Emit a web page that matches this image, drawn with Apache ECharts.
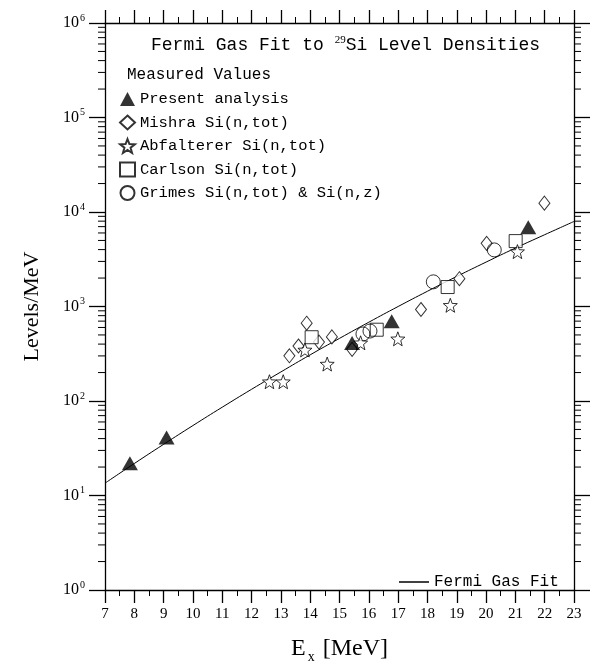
<!DOCTYPE html>
<html>
<head>
<meta charset="utf-8">
<script src="https://cdn.jsdelivr.net/npm/echarts@6/dist/echarts.min.js"></script>
<style>
html, body { margin: 0; padding: 0; background: #fff; }
#chart { width: 593px; height: 669px; }
</style>
</head>
<body>
<div id="chart"></div>
<script>
// Fermi gas fit curve
var fitEx = [7, 8, 9, 10, 11, 12, 13, 14, 15, 16, 17, 18, 19, 20, 21, 22, 23];
var fitLevels = [13.5, 21.8, 34.8, 55, 86, 133, 203, 308, 460, 682, 1000, 1450, 2080, 2950, 4150, 5750, 7940];

// measured values
var presentEx = [7.85, 9.10, 15.43, 16.78, 21.44];
var presentLevels = [22, 41, 410, 700, 6900];

var mishraEx = [13.29, 13.60, 13.88, 14.30, 14.74, 15.43, 17.78, 19.09, 20.02, 21.99];
var mishraLevels = [301, 382, 666, 420, 477, 352, 929, 1970, 4660, 12400];

var abfEx = [12.61, 13.08, 13.82, 14.58, 15.72, 16.99, 18.78, 21.07];
var abfLevels = [160, 160, 347, 246, 413, 455, 1030, 3810];

var carlsonEx = [14.05, 16.27, 18.69, 21.01];
var carlsonLevels = [473, 568, 1607, 4920];

var grimesEx = [15.80, 16.04, 18.20, 20.28];
var grimesLevels = [512, 550, 1824, 3970];

var seriesNames = ['Present analysis', 'Mishra Si(n,tot)', 'Abfalterer Si(n,tot)',
    'Carlson Si(n,tot)', 'Grimes Si(n,tot) & Si(n,z)'];

var starPath = 'path://M50 0 L62.34 33.01 L97.55 34.55 L69.97 56.49 L79.39 90.45 L50 71 L20.61 90.45 L30.03 56.49 L2.45 34.55 L37.66 33.01 Z';

function zip(xs, ys) {
    var out = [];
    for (var i = 0; i < xs.length; i++) out.push([xs[i], ys[i]]);
    return out;
}

// log minor ticks 2..9 per decade
var minorY = [];
for (var d = 0; d < 6; d++) {
    for (var k = 2; k <= 9; k++) minorY.push([7, k * Math.pow(10, d)]);
}

var mono = 'Liberation Mono';
var serif = 'Liberation Serif';

var hollow = { color: '#fff', borderColor: '#000', borderWidth: 1 };

var xAxisBase = {
    type: 'value',
    min: 7,
    max: 23,
    interval: 1,
    axisLine: { lineStyle: { color: '#000', width: 1.3 } },
    axisTick: { length: 13, lineStyle: { color: '#000', width: 1.3 } },
    minorTick: { show: true, splitNumber: 2, length: 6, lineStyle: { color: '#000', width: 1 } },
    splitLine: { show: false },
    minorSplitLine: { show: false }
};

var yAxisBase = {
    type: 'log',
    min: 1,
    max: 1000000,
    splitNumber: 6,
    axisLine: { lineStyle: { color: '#000', width: 1.3 } },
    axisTick: { length: 16, lineStyle: { color: '#000', width: 1.3 } },
    splitLine: { show: false }
};

var chart = echarts.init(document.getElementById('chart'));

var option = {
    backgroundColor: '#fff',
    animation: false,
    grid: { left: 105, right: 19, top: 23, bottom: 66 },
    title: [{
        left: 146,
        top: 30,
        text: '{a|Fermi Gas Fit to }{s|29}{a|Si Level Densities}',
        textStyle: {
            rich: {
                a: { fontFamily: mono, fontSize: 18, fontWeight: 'normal', color: '#000' },
                s: { fontFamily: serif, fontSize: 11, fontWeight: 'normal', color: '#000', padding: [0, 0, 9, 0] }
            }
        }
    }, {
        left: 122,
        top: 62,
        text: 'Measured Values',
        textStyle: { fontFamily: mono, fontSize: 16, fontWeight: 'normal', color: '#000' }
    }],
    legend: [{
        orient: 'vertical',
        left: 114,
        top: 86,
        itemWidth: 15,
        itemHeight: 14,
        itemGap: 7.5,
        selectedMode: false,
        textStyle: { fontFamily: mono, fontSize: 15.5, color: '#000' },
        data: seriesNames
    }, {
        left: 394,
        top: 569,
        itemWidth: 30,
        itemHeight: 1.5,
        selectedMode: false,
        textStyle: { fontFamily: mono, fontSize: 16, color: '#000' },
        data: [{ name: 'Fermi Gas Fit', icon: 'rect' }]
    }],
    xAxis: [
        Object.assign({}, xAxisBase, {
            position: 'bottom',
            axisLabel: { margin: 17, fontFamily: serif, fontSize: 15, color: '#000' },
            name: '{e|E}{x|x}{e| [MeV]}',
            nameLocation: 'middle',
            nameGap: 44,
            nameTextStyle: {
                rich: {
                    e: { fontFamily: serif, fontSize: 24, color: '#000', lineHeight: 30 },
                    x: { fontFamily: serif, fontSize: 14, color: '#000', verticalAlign: 'bottom', lineHeight: 14, padding: [0, 2, 0, 2] }
                }
            }
        }),
        Object.assign({}, xAxisBase, {
            position: 'top',
            axisLabel: { show: false }
        })
    ],
    yAxis: [
        Object.assign({}, yAxisBase, {
            position: 'left',
            axisLabel: {
                margin: 20,
                formatter: function (v) {
                    return '{b|10}{s|' + Math.round(Math.log10(v)) + '}';
                },
                rich: {
                    b: { fontFamily: serif, fontSize: 16, color: '#000' },
                    s: { fontFamily: serif, fontSize: 10, color: '#000', padding: [0, 0, 10, 1] }
                }
            },
            name: 'Levels/MeV',
            nameLocation: 'middle',
            nameGap: 62,
            nameTextStyle: { fontFamily: serif, fontSize: 22, color: '#000' }
        }),
        Object.assign({}, yAxisBase, {
            position: 'right',
            axisLabel: { show: false }
        })
    ],
    series: [{
        name: 'Fermi Gas Fit',
        type: 'line',
        smooth: true,
        symbol: 'none',
        lineStyle: { color: '#000', width: 1 },
        itemStyle: { color: '#000' },
        data: zip(fitEx, fitLevels),
        z: 1
    }, {
        name: seriesNames[0],
        type: 'scatter',
        symbol: 'triangle',
        symbolSize: [16, 14],
        itemStyle: { color: '#000' },
        data: zip(presentEx, presentLevels),
        z: 5
    }, {
        name: seriesNames[1],
        type: 'scatter',
        symbol: 'diamond',
        symbolSize: [11, 14],
        itemStyle: hollow,
        data: zip(mishraEx, mishraLevels),
        z: 3
    }, {
        name: seriesNames[2],
        type: 'scatter',
        symbol: starPath,
        symbolSize: 14,
        itemStyle: hollow,
        data: zip(abfEx, abfLevels),
        z: 4
    }, {
        name: seriesNames[3],
        type: 'scatter',
        symbol: 'rect',
        symbolSize: 13,
        itemStyle: hollow,
        data: zip(carlsonEx, carlsonLevels),
        z: 3
    }, {
        name: seriesNames[4],
        type: 'scatter',
        symbol: 'circle',
        symbolSize: 14,
        itemStyle: { color: 'rgba(255,255,255,0)', borderColor: '#000', borderWidth: 1 },
        data: zip(grimesEx, grimesLevels),
        z: 3
    }, {
        type: 'custom',
        silent: true,
        data: minorY,
        renderItem: function (params, api) {
            var v = api.value(1);
            var l = api.coord([7, v]);
            var r = api.coord([23, v]);
            var len = 7;
            return {
                type: 'group',
                children: [{
                    type: 'line',
                    shape: { x1: l[0] - len, y1: l[1], x2: l[0], y2: l[1] },
                    style: { stroke: '#000', lineWidth: 1 }
                }, {
                    type: 'line',
                    shape: { x1: r[0], y1: r[1], x2: r[0] + len, y2: r[1] },
                    style: { stroke: '#000', lineWidth: 1 }
                }]
            };
        }
    }]
};

chart.setOption(option);
</script>
</body>
</html>
